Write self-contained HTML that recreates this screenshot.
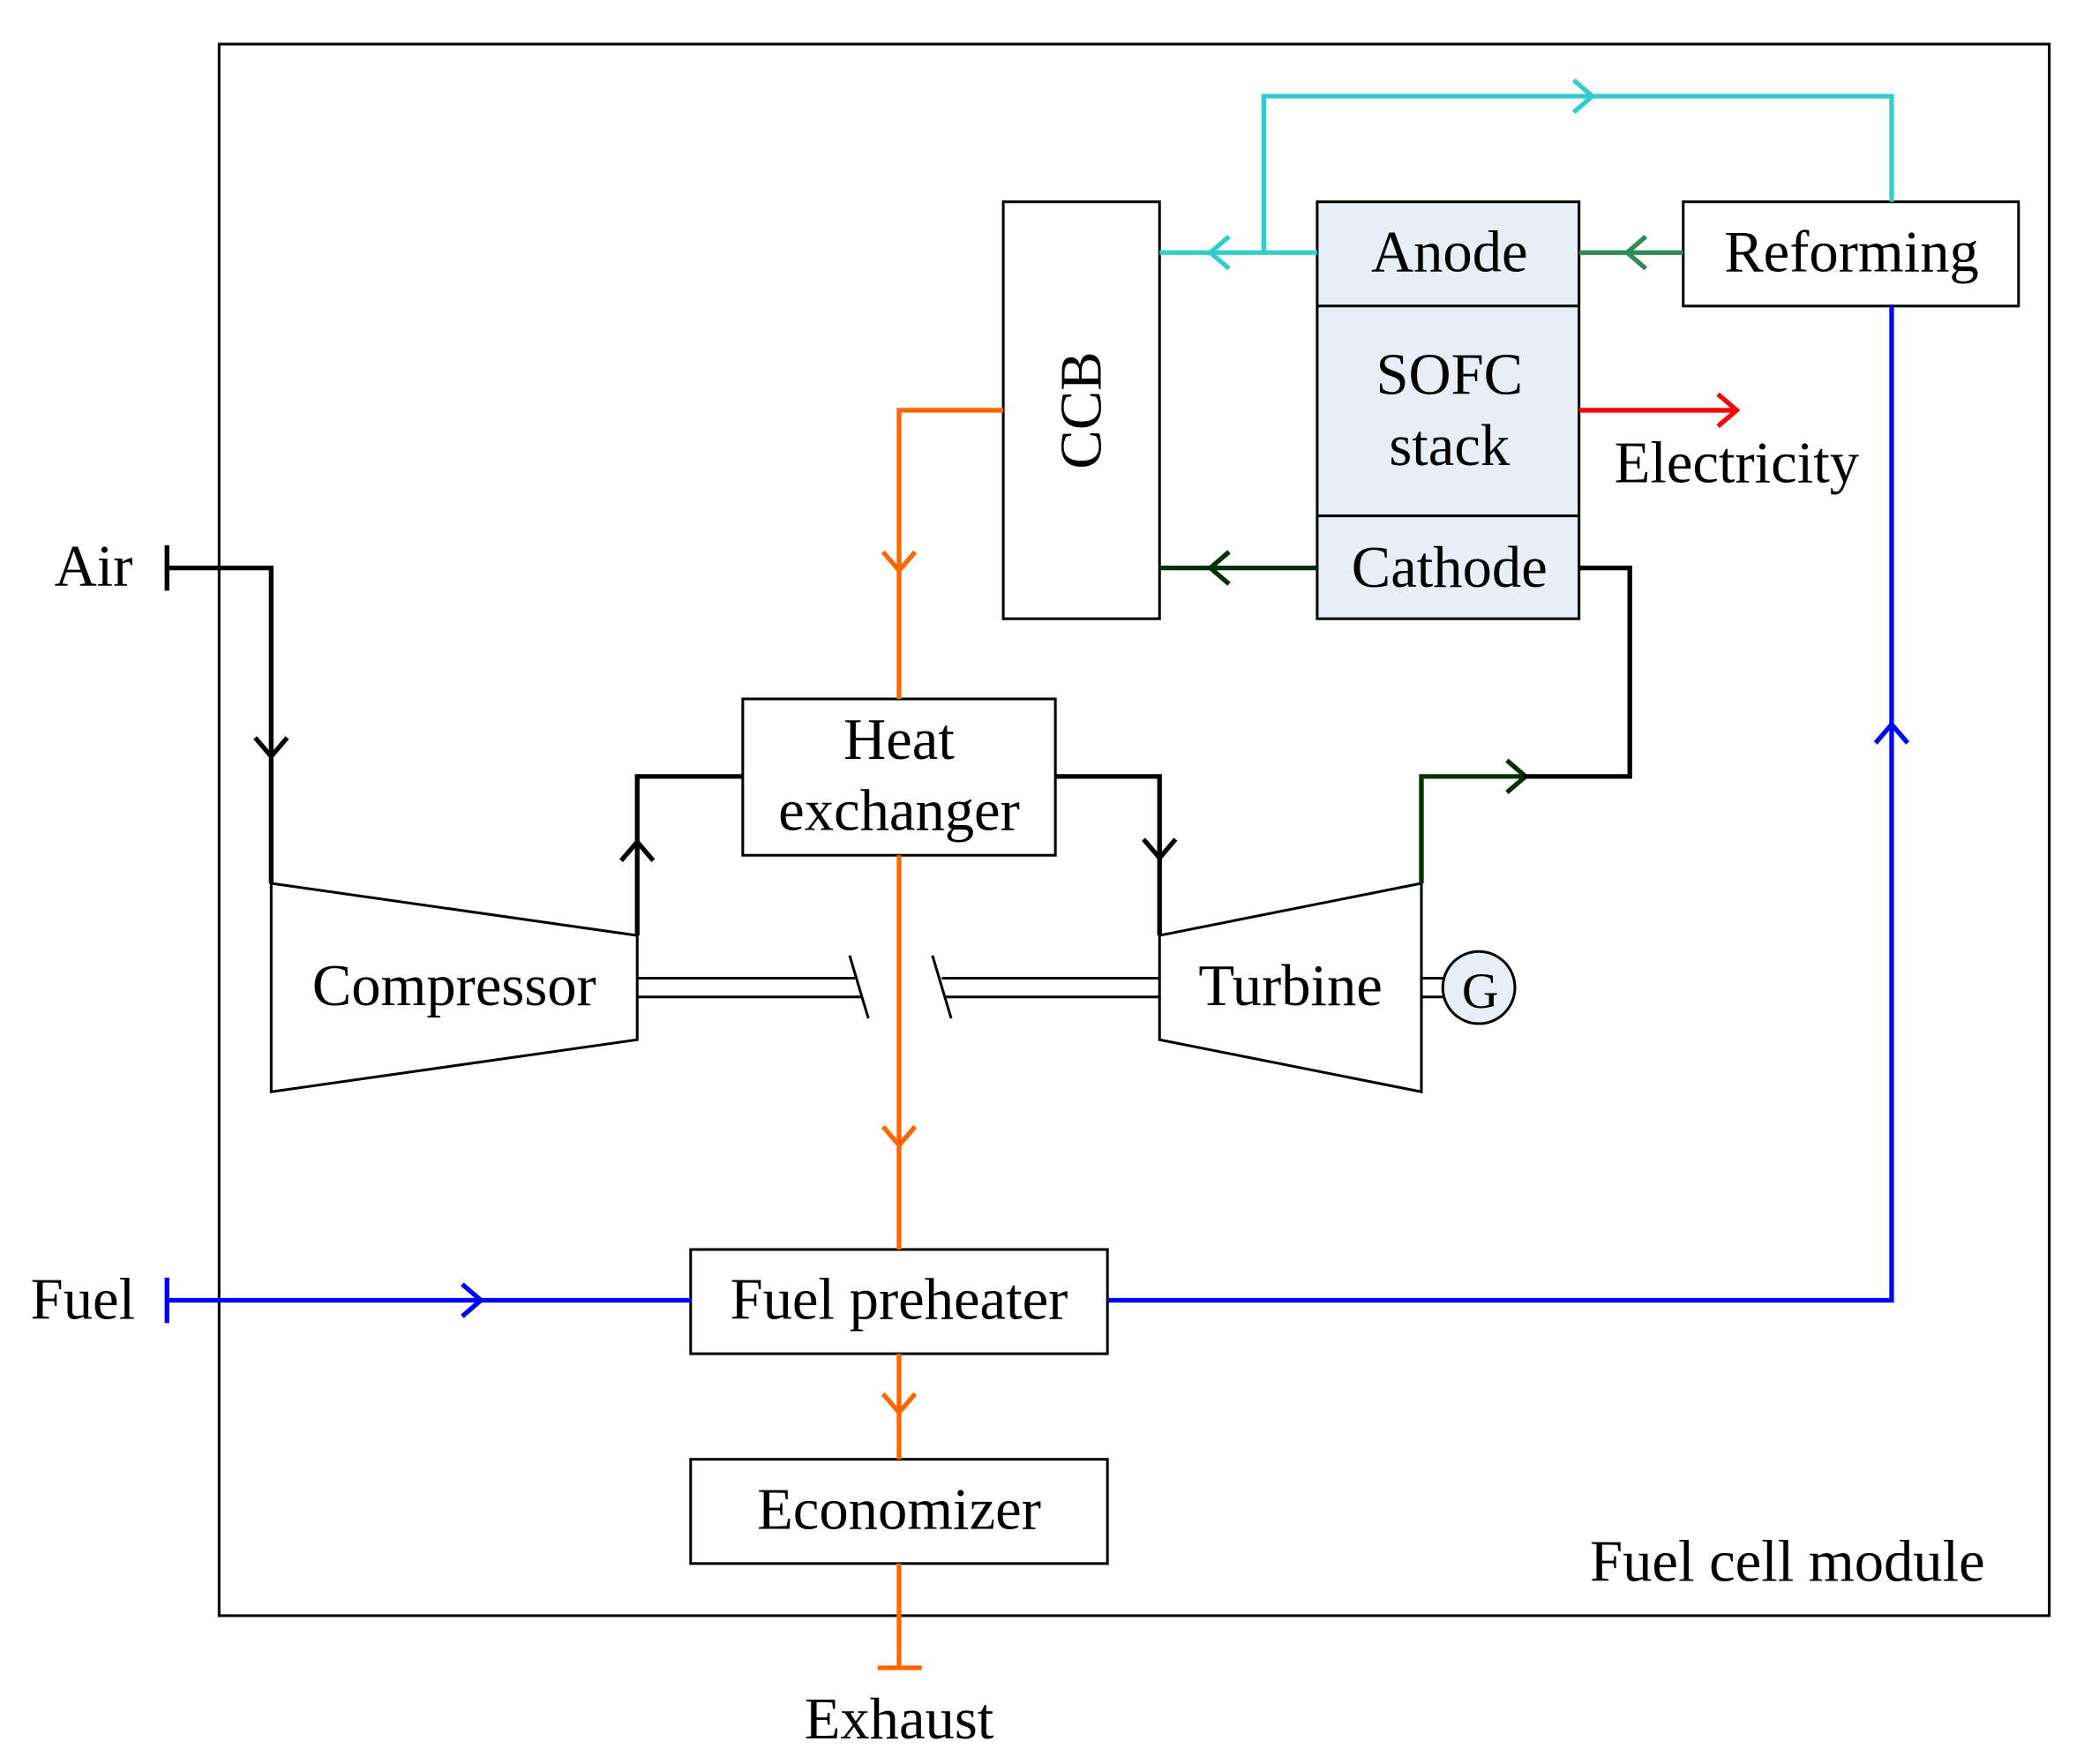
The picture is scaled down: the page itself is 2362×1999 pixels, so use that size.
<!DOCTYPE html>
<html><head><meta charset="utf-8"><style>html,body{margin:0;padding:0;background:#fff}svg{display:block}</style></head>
<body>
<svg width="2362" height="1999" viewBox="0 0 1560 1320" preserveAspectRatio="none" xmlns="http://www.w3.org/2000/svg" font-family="Liberation Serif, serif" font-size="44" fill="none">
<rect x="0" y="0" width="1560" height="1320" fill="#fff"/>
<rect x="164" y="33" width="1370" height="1176" stroke="#000" stroke-width="2"/>
<rect x="751" y="151" width="117" height="312" stroke="#000" stroke-width="2" fill="#fff"/>
<rect x="986" y="151" width="196" height="312" stroke="#000" stroke-width="2" fill="#e8eef8"/>
<line x1="986" y1="229" x2="1182" y2="229" stroke="#000" stroke-width="2"/>
<line x1="986" y1="386" x2="1182" y2="386" stroke="#000" stroke-width="2"/>
<rect x="1260" y="151" width="251" height="78" stroke="#000" stroke-width="2" fill="#fff"/>
<rect x="556" y="523" width="234" height="117" stroke="#000" stroke-width="2" fill="#fff"/>
<rect x="517" y="935" width="312" height="78" stroke="#000" stroke-width="2" fill="#fff"/>
<rect x="517" y="1092" width="312" height="78" stroke="#000" stroke-width="2" fill="#fff"/>
<polygon points="203,661 477,700 477,778 203,817" stroke="#000" stroke-width="2" fill="#fff"/>
<polygon points="868,700 1064,661 1064,817 868,778" stroke="#000" stroke-width="2" fill="#fff"/>
<g stroke="#000" stroke-width="2">
<line x1="477" y1="732" x2="640" y2="732"/><line x1="477" y1="746" x2="645" y2="746"/>
<line x1="705" y1="732" x2="868" y2="732"/><line x1="708" y1="746" x2="868" y2="746"/>
<line x1="636" y1="715" x2="650" y2="762"/><line x1="698" y1="715" x2="712" y2="762"/>
<line x1="1064" y1="732" x2="1082" y2="732"/><line x1="1064" y1="746" x2="1082" y2="746"/>
</g>
<circle cx="1107" cy="739" r="27" stroke="#000" stroke-width="2" fill="#e8eef8"/>
<g stroke="#33cccc" stroke-width="3.5">
<polyline points="1416,151 1416,72 946,72 946,189"/>
<line x1="986" y1="189" x2="868" y2="189"/>
<polyline points="1178,60 1192,72 1178,84"/>
<polyline points="920,177 906,189 920,201"/>
</g>
<g stroke="#2e8b57" stroke-width="3.5">
<line x1="1260" y1="189" x2="1182" y2="189"/>
<polyline points="1232,177 1218,189 1232,201"/>
</g>
<g stroke="#ff0000" stroke-width="3.5">
<line x1="1182" y1="307" x2="1300" y2="307"/>
<polyline points="1286,295 1300,307 1286,319"/>
</g>
<g stroke="#003300" stroke-width="3.5">
<line x1="986" y1="425" x2="868" y2="425"/>
<polyline points="920,413 906,425 920,437"/>
<polyline points="1064,661 1064,581 1140,581"/>
<polyline points="1128,569 1142,581 1128,593"/>
</g>
<g stroke="#000" stroke-width="3.5">
<polyline points="1140,581 1220,581 1220,425 1182,425"/>
<polyline points="125,425 203,425 203,661"/>
<line x1="125" y1="408" x2="125" y2="442"/>
<polyline points="191,552 203,566 215,552"/>
<polyline points="477,700 477,581 556,581"/>
<polyline points="465,644 477,630 489,644"/>
<polyline points="790,581 868,581 868,700"/>
<polyline points="856,628 868,642 880,628"/>
</g>
<g stroke="#ff6600" stroke-width="3.5">
<polyline points="751,307 673,307 673,523"/>
<line x1="673" y1="640" x2="673" y2="935"/>
<line x1="673" y1="1013" x2="673" y2="1092"/>
<line x1="673" y1="1170" x2="673" y2="1248"/>
<line x1="657" y1="1248" x2="690" y2="1248"/>
<polyline points="661,413 673,427 685,413"/>
<polyline points="661,843 673,857 685,843"/>
<polyline points="661,1043 673,1057 685,1043"/>
</g>
<g stroke="#0000ff" stroke-width="3.5">
<line x1="125" y1="973" x2="517" y2="973"/>
<line x1="125" y1="956" x2="125" y2="990"/>
<polyline points="346,961 360,973 346,985"/>
<polyline points="829,973 1416,973 1416,229"/>
<polyline points="1404,556 1416,542 1428,556"/>
</g>
<g fill="#000" text-anchor="middle">
<text x="1085" y="203">Anode</text>
<text x="1085" y="295">SOFC</text>
<text x="1085" y="348">stack</text>
<text x="1085" y="439">Cathode</text>
<text x="1386" y="203">Reforming</text>
<text x="1300" y="361">Electricity</text>
<text x="0" y="0" transform="translate(824,307) rotate(-90)">CCB</text>
<text x="673" y="568">Heat</text>
<text x="673" y="621">exchanger</text>
<text x="340" y="752">Compressor</text>
<text x="966" y="752">Turbine</text>
<text x="1108" y="754" font-size="38">G</text>
<text x="673" y="987">Fuel preheater</text>
<text x="673" y="1144">Economizer</text>
<text x="673" y="1301">Exhaust</text>
<text x="70" y="438">Air</text>
<text x="62" y="987">Fuel</text>
<text x="1338" y="1183">Fuel cell module</text>
</g>
</svg>
</body></html>
